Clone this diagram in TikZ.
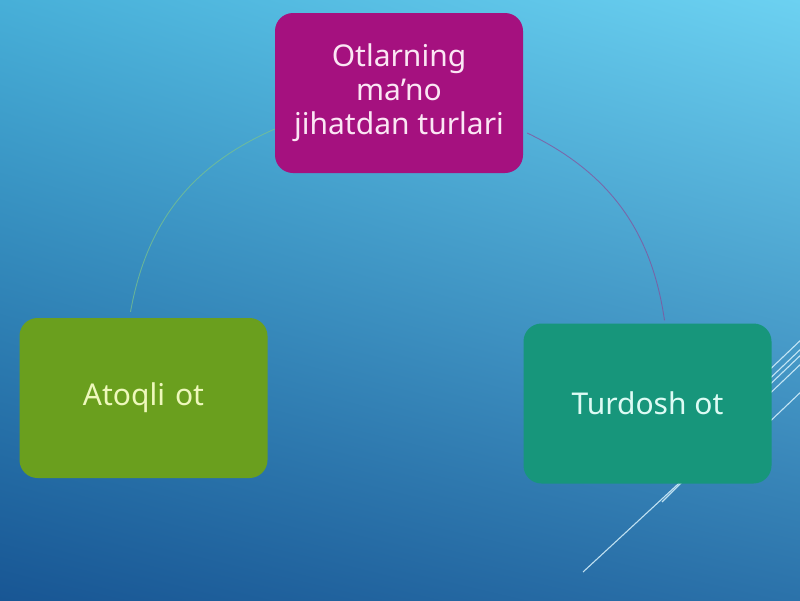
\documentclass[tikz,border=0pt]{standalone}
\usepackage{fontspec}
\setmainfont{Noto Sans}
\usetikzlibrary{shadings}
\definecolor{bgUL}{HTML}{47AFD8}
\definecolor{bgUR}{HTML}{6CD1F1}
\definecolor{bgLL}{HTML}{185694}
\definecolor{bgLR}{HTML}{2B72AA}
\definecolor{magbox}{HTML}{A5117F}
\definecolor{grnbox}{HTML}{6A9F1E}
\definecolor{tealbox}{HTML}{17967B}
\definecolor{magtxt}{HTML}{FBE6F4}
\definecolor{grntxt}{HTML}{EEF8BC}
\definecolor{tealtxt}{HTML}{DDFBF4}
\definecolor{arcgrn}{HTML}{7CC48A}
\definecolor{arcmag}{HTML}{8A4C98}
\begin{document}
\begin{tikzpicture}[x=1pt,y=-1pt,
  cyclebox/.style={rounded corners=18pt, minimum width=248pt, minimum height=160pt,
    align=center, inner sep=0pt, font=\fontsize{30}{34}\selectfont},
  deco/.style={draw=white!85!cyan, line width=1.1pt, opacity=0.85},
  cyclearc/.style={line width=0.9pt, opacity=0.7}]
\useasboundingbox (0,0) rectangle (800,600);
\shade[upper left=bgUL, upper right=bgUR, lower left=bgLL, lower right=bgLR] (0,0) rectangle (800,600);
% decorative lines
\coordinate (d1a) at (740,398); \coordinate (d1b) at (805,336);
\coordinate (d2a) at (740,407); \coordinate (d2b) at (805,345);
\coordinate (d3a) at (740,413); \coordinate (d3b) at (805,351);
\coordinate (d4a) at (740,422); \coordinate (d4b) at (805,360);
\coordinate (d5a) at (740,450); \coordinate (d5b) at (805,388);
\coordinate (d6a) at (583,572); \coordinate (d6b) at (690,473);
\coordinate (d7a) at (662,502); \coordinate (d7b) at (690,474);
\foreach \s in {1,...,7} {\draw[deco] (d\s a) -- (d\s b);}
% boxes
\node[cyclebox, fill=magbox, text=magtxt] (top) at (399,93) {Otlarning\\ma’no\\jihatdan turlari};
\node[cyclebox, fill=grnbox, text=grntxt, xshift=-4pt, text width=240pt] (left) at (147.5,398) {Atoqli ot};
\node[cyclebox, fill=tealbox, text=tealtxt] (right) at (647.5,403.5) {Turdosh ot};
% arcs
\coordinate (la) at ([yshift=-36pt]top.west);
\coordinate (lb) at ([xshift=-13pt,yshift=6pt]left.north);
\coordinate (ra) at ([xshift=4pt,yshift=-40pt]top.east);
\coordinate (rb) at ([xshift=17pt,yshift=3pt]right.north);
\draw[cyclearc, draw=arcgrn] (la) to[bend right=28] (lb);
\draw[cyclearc, draw=arcmag] (ra) to[bend left=28] (rb);
\end{tikzpicture}
\end{document}
